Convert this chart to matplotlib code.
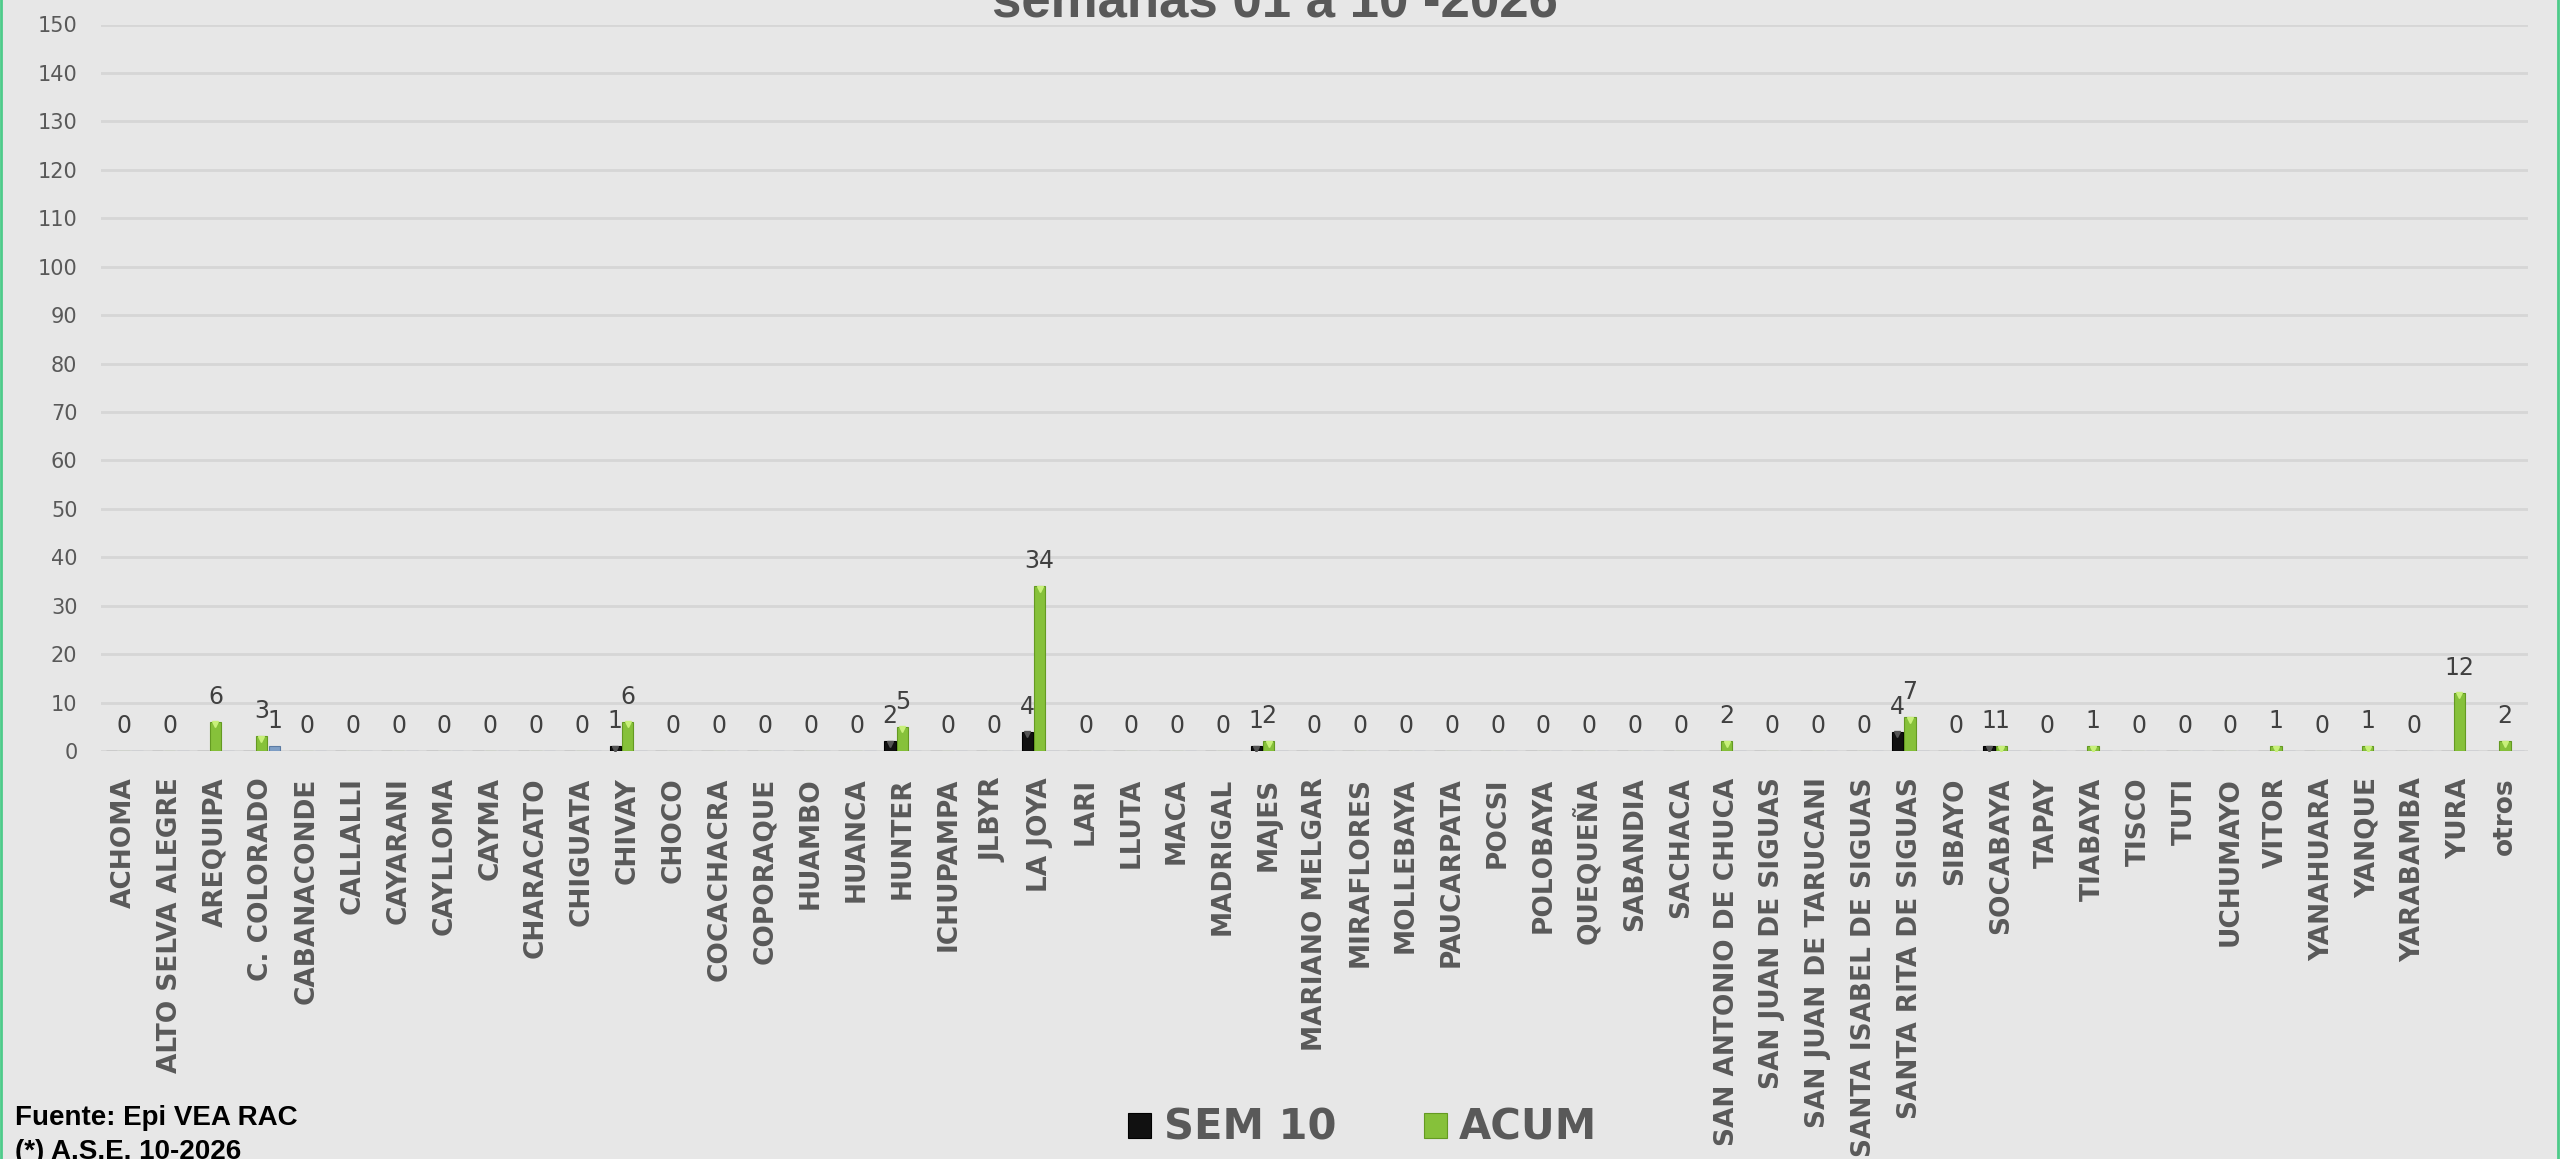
import matplotlib.pyplot as plt
from matplotlib.lines import Line2D
import numpy as np

distritos = ["ACHOMA", "ALTO SELVA ALEGRE", "AREQUIPA", "C. COLORADO", "CABANACONDE",
             "CALLALLI", "CAYARANI", "CAYLLOMA", "CAYMA", "CHARACATO", "CHIGUATA",
             "CHIVAY", "CHOCO", "COCACHACRA", "COPORAQUE", "HUAMBO", "HUANCA", "HUNTER",
             "ICHUPAMPA", "JLBYR", "LA JOYA", "LARI", "LLUTA", "MACA", "MADRIGAL", "MAJES",
             "MARIANO MELGAR", "MIRAFLORES", "MOLLEBAYA", "PAUCARPATA", "POCSI", "POLOBAYA",
             "QUEQUEÑA", "SABANDIA", "SACHACA", "SAN ANTONIO DE CHUCA", "SAN JUAN DE SIGUAS",
             "SAN JUAN DE TARUCANI", "SANTA ISABEL DE SIGUAS", "SANTA RITA DE SIGUAS",
             "SIBAYO", "SOCABAYA", "TAPAY", "TIABAYA", "TISCO", "TUTI", "UCHUMAYO", "VITOR",
             "YANAHUARA", "YANQUE", "YARABAMBA", "YURA", "otros"]

sem10 = [0, 0, 0, 0, 0, 0, 0, 0, 0, 0, 0, 1, 0, 0, 0, 0, 0, 2, 0, 0, 4, 0, 0, 0, 0, 1,
         0, 0, 0, 0, 0, 0, 0, 0, 0, 0, 0, 0, 0, 4, 0, 1, 0, 0, 0, 0, 0, 0, 0, 0, 0, 0, 0]
acum = [0, 0, 6, 3, 0, 0, 0, 0, 0, 0, 0, 6, 0, 0, 0, 0, 0, 5, 0, 0, 34, 0, 0, 0, 0, 2,
        0, 0, 0, 0, 0, 0, 0, 0, 0, 2, 0, 0, 0, 7, 0, 1, 0, 1, 0, 0, 0, 1, 0, 1, 0, 12, 2]
otra = [0, 0, 0, 1, 0, 0, 0, 0, 0, 0, 0, 0, 0, 0, 0, 0, 0, 0, 0, 0, 0, 0, 0, 0, 0, 0,
        0, 0, 0, 0, 0, 0, 0, 0, 0, 0, 0, 0, 0, 0, 0, 0, 0, 0, 0, 0, 0, 0, 0, 0, 0, 0, 0]

bg = "#e7e7e7"
gris = "#595959"

fig = plt.figure(figsize=(25.6, 11.59), dpi=100, facecolor=bg)
ax = fig.add_axes([101 / 2560, 1 - 751 / 1159, (2528 - 101) / 2560, (751 - 24.5) / 1159])
ax.set_facecolor(bg)

x = np.arange(len(distritos))
w = 0.25
b1 = ax.bar(x - 0.27, sem10, w, color="#111111", edgecolor="#000000", lw=0.8,
            label="SEM 10", zorder=3)
b2 = ax.bar(x, acum, w, color="#86c13a", edgecolor="#649a22", lw=0.8,
            label="ACUM", zorder=3)
b3 = ax.bar(x + 0.29, otra, w, color="#7f9fc6", edgecolor="#5b7ba3", lw=0.8, zorder=3)

# bevel tip on top of each non-zero bar
for xs, vals, c in [(x - 0.27, sem10, "#555555"), (x, acum, "#c8f07a")]:
    v = np.array(vals, dtype=float)
    m = v > 0
    ax.plot(xs[m], v[m] - 0.5, ls="none", marker="v", ms=5, color=c, zorder=4)

# value labels: ACUM always, the others only when non-zero
for xs, vals, show0 in [(x - 0.27, sem10, False), (x, acum, True), (x + 0.29, otra, False)]:
    for xi, v in zip(xs, vals):
        if v == 0 and not show0:
            continue
        ax.annotate(str(v), (xi, v), xytext=(0, 13), textcoords="offset points",
                    ha="center", va="baseline", fontsize=17, color="#404040", zorder=5)

ax.set_xlim(-0.5, len(distritos) - 0.5)
ax.set_ylim(0, 150)
ax.set_yticks(range(0, 151, 10))
ax.grid(axis="y", color="#d6d6d6", lw=2, zorder=0)
ax.tick_params(axis="y", length=0, pad=17, labelsize=15, labelcolor=gris)
ax.tick_params(axis="x", length=0, pad=19)
ax.set_xticks(x)
ax.set_xticklabels(distritos, rotation=90, fontsize=19, fontweight="bold", color=gris)
for s in ax.spines.values():
    s.set_visible(False)

fig.text(1275 / 2560, 1 - 18 / 1159, "semanas 01 a 10 -2026", ha="center", va="baseline",
         fontsize=38, fontweight="bold", color=gris, family="Liberation Sans")

leg = fig.legend(handles=[b1, b2], loc="center", bbox_to_anchor=(1363 / 2560, 1 - 1128 / 1159),
                 ncol=2, frameon=False, handlelength=0.55, handleheight=0.55,
                 handletextpad=0.3, columnspacing=2.1, fontsize=30)
for t in leg.get_texts():
    t.set_color(gris)
    t.set_fontweight("bold")

fig.text(15 / 2560, 1 - 1118 / 1159, "Fuente: Epi VEA RAC", ha="left", va="center",
         fontsize=20, fontweight="bold", color="black", family="Liberation Sans")
fig.text(15 / 2560, 1 - 1152 / 1159, "(*) A.S.E. 10-2026", ha="left", va="center",
         fontsize=20, fontweight="bold", color="black", family="Liberation Sans")

# thin green border on the sides
for xe in (0.0004, 0.9992):
    fig.add_artist(Line2D([xe, xe], [0, 1], transform=fig.transFigure,
                          color="#4ecb8a", lw=2))

fig.savefig("out.png", dpi=100, facecolor=bg)
